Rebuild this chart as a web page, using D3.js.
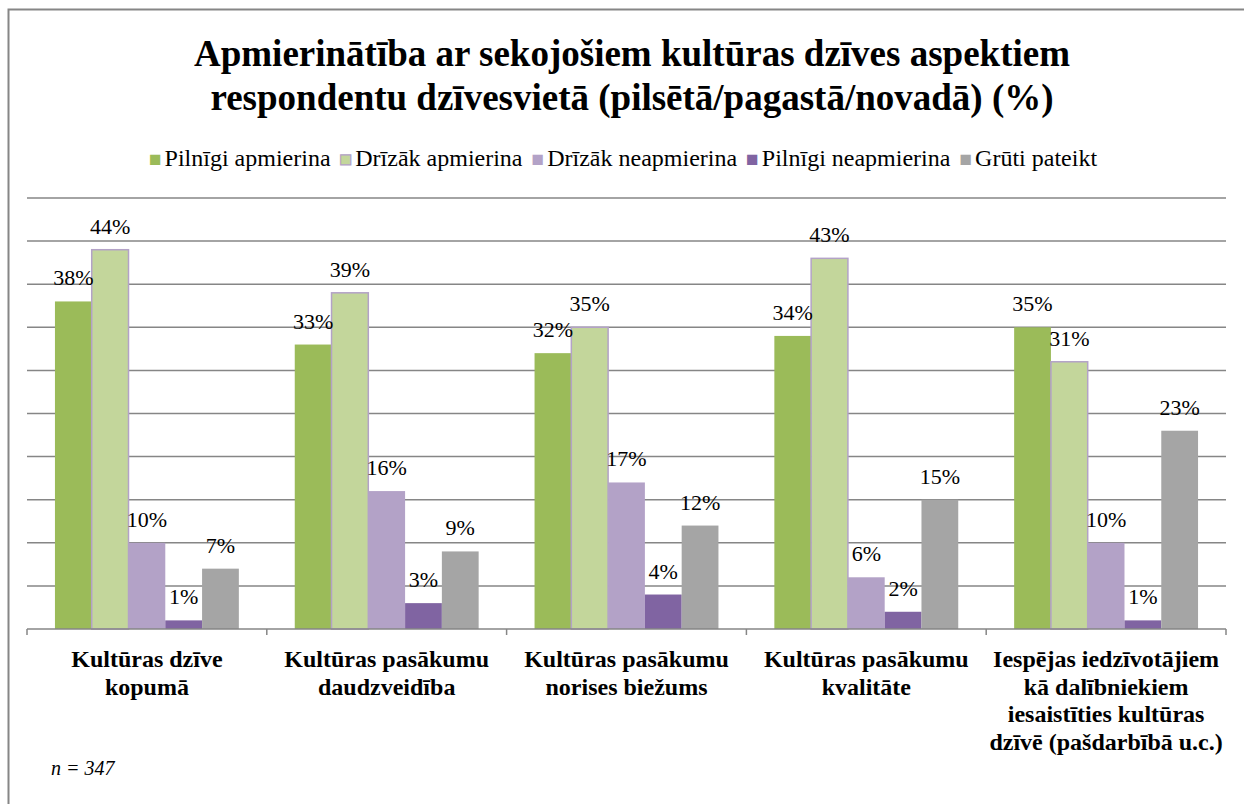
<!DOCTYPE html>
<html>
<head>
<meta charset="utf-8">
<script src="https://cdn.jsdelivr.net/npm/d3@7"></script>
</head>
<body style="margin:0">
<svg id="chart" width="1244" height="804"></svg>
<script>
// data
var categories = [
  ["Kultūras dzīve", "kopumā"],
  ["Kultūras pasākumu", "daudzveidība"],
  ["Kultūras pasākumu", "norises biežums"],
  ["Kultūras pasākumu", "kvalitāte"],
  ["Iespējas iedzīvotājiem", "kā dalībniekiem", "iesaistīties kultūras", "dzīvē (pašdarbībā u.c.)"]
];
var seriesNames = ["Pilnīgi apmierina", "Drīzāk apmierina", "Drīzāk neapmierina", "Pilnīgi neapmierina", "Grūti pateikt"];
var pilnigiApm = [38, 33, 32, 34, 35];
var drizakApm = [44, 39, 35, 43, 31];
var drizakNeapm = [10, 16, 17, 6, 10];
var pilnigiNeapm = [1, 3, 4, 2, 1];
var gruti = [7, 9, 12, 15, 23];
var gridTicks = [0, 5, 10, 15, 20, 25, 30, 35, 40, 45, 50];

var colors = ["#9bbb59", "#c3d69b", "#b3a2c7", "#8064a2", "#a5a5a5"];
var allSeries = [pilnigiApm, drizakApm, drizakNeapm, pilnigiNeapm, gruti];
var FONT = "'Liberation Serif'";

var svg = d3.select("#chart");

// serif font on a text element (attribute and inline style)
function serif(sel, size, weight, italic){
  sel.attr("font-family", "Liberation Serif")
    .style("font-family", FONT)
    .style("font-size", size + "px")
    .style("font-weight", weight || "normal")
    .style("font-style", italic ? "italic" : "normal");
  return sel;
}

// outer frame
svg.append("rect")
  .attr("x", 8.5).attr("y", 9.5)
  .attr("width", 1260).attr("height", 820)
  .attr("fill", "none").attr("stroke", "#868686").attr("stroke-width", 2);

// title
svg.append("text")
  .attr("x", 632).attr("y", 0)
  .attr("text-anchor", "middle")
  .style("font-family", FONT)
  .style("font-size", "37px").style("font-weight", "bold")
  .selectAll("tspan")
  .data(["Apmierinātība ar sekojošiem kultūras dzīves aspektiem", "respondentu dzīvesvietā (pilsētā/pagastā/novadā) (%)"])
  .enter().append("tspan")
  .attr("x", 632)
  .attr("y", function(d, i){ return 66 + i * 44; })
  .text(function(d){ return d; });

// scales
var x0 = d3.scaleBand().domain(d3.range(categories.length)).range([27, 1226]);
var x1 = d3.scaleBand().domain(d3.range(seriesNames.length))
  .range([0, x0.bandwidth()]).paddingOuter(0.76).paddingInner(0);
var y = d3.scaleLinear().domain([0, 50]).range([629, 198]);

// gridlines
svg.append("g").selectAll("line").data(gridTicks.slice(1)).enter().append("line")
  .attr("x1", 27).attr("x2", 1226)
  .attr("y1", function(d){ return y(d); }).attr("y2", function(d){ return y(d); })
  .attr("stroke", "#868686").attr("stroke-width", 1.5);

// bars
var groups = svg.append("g").selectAll("g").data(categories).enter().append("g")
  .attr("transform", function(d, i){ return "translate(" + x0(i) + ",0)"; });

groups.each(function(c, ci){
  var g = d3.select(this);
  allSeries.forEach(function(vals, si){
    g.append("rect")
      .attr("x", x1(si)).attr("y", y(vals[ci]))
      .attr("width", x1.bandwidth()).attr("height", y(0) - y(vals[ci]))
      .attr("fill", colors[si])
      .attr("stroke", si == 1 ? "#b3a2c7" : "none")
      .attr("stroke-width", si == 1 ? 1.5 : 0);
  });
});
// value labels
groups.each(function(c, ci){
  var g = d3.select(this);
  allSeries.forEach(function(vals, si){
    serif(g.append("text"), 22)
      .attr("x", x1(si) + x1.bandwidth() / 2)
      .attr("y", y(vals[ci]) - 16)
      .attr("text-anchor", "middle")
      .text(vals[ci] + "%");
  });
});

// axis
var axis = svg.append("g");
axis.append("line")
  .attr("x1", 27).attr("x2", 1226).attr("y1", y(0)).attr("y2", y(0))
  .attr("stroke", "#868686").attr("stroke-width", 1.5);
var tickX = d3.range(categories.length).map(function(i){ return x0(i); }).concat([1226]);
axis.selectAll("line.tick").data(tickX).enter().append("line")
  .attr("class", "tick")
  .attr("x1", function(d){ return d; }).attr("x2", function(d){ return d; })
  .attr("y1", y(0)).attr("y2", y(0) + 6)
  .attr("stroke", "#868686").attr("stroke-width", 1.5);

// category labels
categories.forEach(function(lines, i){
  lines.forEach(function(line, j){
    serif(svg.append("text"), 24, "bold")
      .attr("x", x0(i) + x0.bandwidth() / 2)
      .attr("y", 667 + j * 27.6)
      .attr("text-anchor", "middle")
      .text(line);
  });
});

// legend: one centred line, squares as glyphs so no measuring is needed
var legend = serif(svg.append("text"), 24)
  .attr("x", 623).attr("y", 166)
  .attr("text-anchor", "middle");
seriesNames.forEach(function(name, i){
  legend.append("tspan")
    .attr("dx", i == 0 ? 0 : 9)
    .style("font-size", "21px")
    .attr("fill", colors[i])
    .attr("stroke", i == 1 ? "#b3a2c7" : "none")
    .attr("stroke-width", 1.2)
    .text("■");
  legend.append("tspan")
    .attr("dx", 3)
    .attr("font-family", "Liberation Serif")
    .style("font-family", FONT)
    .text(name);
});

// note
serif(svg.append("text"), 20, "normal", true)
  .attr("x", 51).attr("y", 775)
  .text("n = 347");
</script>
</body>
</html>
